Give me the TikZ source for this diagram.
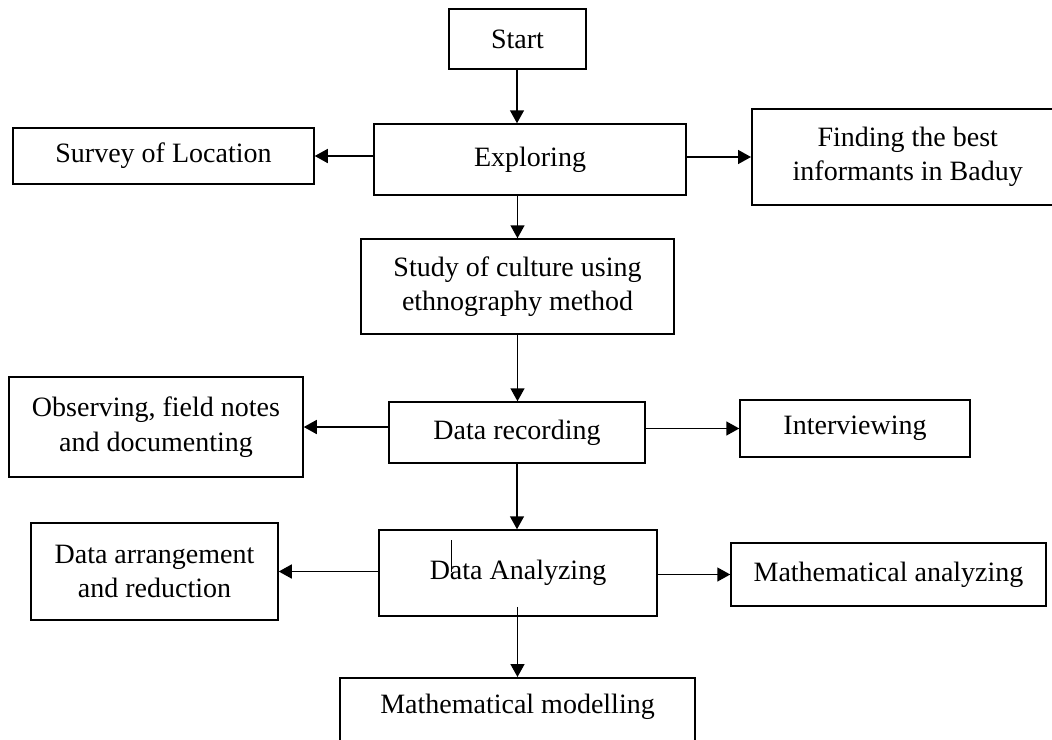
\documentclass[tikz,border=0pt]{standalone}
\usepackage{fontspec}
\setmainfont{Liberation Serif}
\usetikzlibrary{arrows.meta,calc}
\begin{document}
\begin{tikzpicture}[x=1pt,y=-1pt,
  box/.style={draw,line width=1.5pt,inner sep=0pt,align=center,
    font=\fontsize{28}{34.5}\selectfont},
  arr/.style={line width=1.5pt,-{Triangle[length=13pt,width=14pt]}}]
\useasboundingbox (0,0) rectangle (1052,739);
\begin{scope}
\clip (0,0) rectangle (1052,739);
\node[box,minimum width=137,minimum height=60] (start) at (517.5,39) {Start};
\node[box,minimum width=312,minimum height=71] (explore) at (530,159.5) {Exploring};
\node[box,minimum width=301,minimum height=56] (survey) at (163.5,156) {Survey of Location};
\node[box,minimum width=340,minimum height=96,anchor=west] (find) at (751,157) {\hspace*{0pt}\kern-28pt Finding the best\\\kern-28pt informants in Baduy};
\node[box,minimum width=313,minimum height=95] (study) at (517.5,286.5) {Study of culture using\\ethnography method};
\node[box,minimum width=256,minimum height=61] (record) at (517,432.5) {Data recording};
\node[box,minimum width=294,minimum height=100] (observe) at (156,427) {Observing, field notes\\and documenting};
\node[box,minimum width=230,minimum height=57] (interview) at (855,428.5) {Interviewing};
\node[box,minimum width=278,minimum height=86] (analyze) at (518,573) {Data Analyzing};
\node[box,minimum width=247,minimum height=97] (arrange) at (154.5,571.5) {Data arrangement\\and reduction};
\node[box,minimum width=315,minimum height=63] (mathan) at (888.5,574.5) {Mathematical analyzing};
\node[box,minimum width=355,text height=36pt,text depth=54pt,anchor=north] (model) at (517.5,677) {Mathematical modelling};

\draw[arr] (start.south -| 517,0) -- (517,0 |- explore.north);
\draw[arr] (explore.west |- survey.east) -- (survey.east);
\draw[arr] (explore.east |- find.west) -- (find.west);
\draw[arr] (study.north |- explore.south) -- (study.north);
\draw[arr] (study.south) -- (study.south |- record.north);
\draw[arr] (record.west |- observe.east) -- (observe.east);
\draw[arr] (record.east |- interview.west) -- (interview.west);
\draw[arr] (record.south -| 517,0) -- (517,0 |- analyze.north);
\draw[arr] (analyze.west |- arrange.east) -- (arrange.east);
\draw[arr] (analyze.east |- mathan.west) -- (mathan.west);
\coordinate (inner) at ($(analyze.south -| model.north)+(0,-10)$);
\draw[arr] (inner) -- (model.north);
\coordinate (cursorTop) at (451,540);
\coordinate (cursorBot) at (451,572);
\draw[line width=0.9pt] (cursorTop) -- (cursorBot);
\end{scope}
\end{tikzpicture}
\end{document}
